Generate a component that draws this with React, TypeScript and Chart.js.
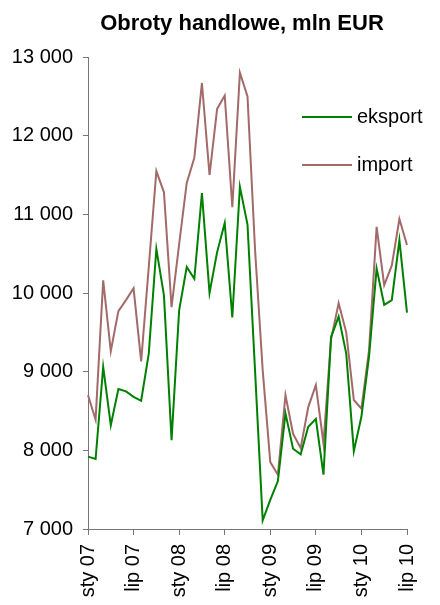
import React, { useEffect, useRef } from "react";
import { Chart, registerables } from "chart.js";

Chart.register(...registerables);

const TITLE = "Obroty handlowe, mln EUR";
const MONTHS = ["sty", "lut", "mar", "kwi", "maj", "cze", "lip", "sie", "wrz", "paź", "lis", "gru"];
const YEARS = ["07", "08", "09", "10"];
const categories: string[] = [];
YEARS.forEach((y) => MONTHS.forEach((m) => categories.push(m + " " + y)));
const labels = categories.slice(0, 43); // sty 07 .. lip 10

const eksport = [
  7920, 7890, 9060, 8320, 8780, 8750, 8680, 8630, 9230, 10560, 9970, 8130,
  9780, 10330, 10180, 11270, 10000, 10520, 10890, 9690, 11350, 10870, 9000, 7110,
  7370, 7610, 8470, 8020, 7950, 8300, 8400, 7690, 9440, 9700, 9230, 7990,
  8430, 9190, 10310, 9850, 9910, 10670, 9750,
];
const importData = [
  8700, 8390, 10160, 9260, 9770, 9910, 10060, 9130, 10330, 11550, 11280, 9820,
  10620, 11400, 11720, 12670, 11500, 12340, 12510, 11090, 12800, 12500, 10540, 9020,
  7850, 7690, 8700, 8210, 8030, 8550, 8830, 8090, 9410, 9870, 9500, 8640,
  8530, 9270, 10840, 10100, 10350, 10940, 10610,
];
const seriesNames = ["eksport", "import"];
const seriesColors = ["#008000", "#A36A6A"];
const yTicks = { min: 7000, max: 13000, step: 1000 };

const FONT = "'Liberation Sans', Arial, sans-serif";

export default function App() {
  const ref = useRef<HTMLCanvasElement | null>(null);

  useEffect(() => {
    document.body.style.margin = "0";
    const canvas = ref.current;
    if (!canvas) return;

    const overlay = {
      id: "overlay",
      afterDraw(chart: any) {
        const ctx = chart.ctx;
        ctx.save();
        ctx.fillStyle = "#000";
        ctx.font = `bold 22px ${FONT}`;
        ctx.textAlign = "center";
        ctx.textBaseline = "middle";
        ctx.fillText(TITLE, 242, 24);
        // legend
        ctx.font = `20px ${FONT}`;
        ctx.textAlign = "left";
        chart.data.datasets.forEach((ds: any, i: number) => {
          const y = 117 + i * 48;
          ctx.strokeStyle = ds.borderColor;
          ctx.lineWidth = 2;
          ctx.beginPath();
          ctx.moveTo(302, y);
          ctx.lineTo(352, y);
          ctx.stroke();
          ctx.fillText(ds.label, 357, y);
        });
        ctx.restore();
      },
    };

    const chart = new Chart(canvas, {
      type: "line",
      data: {
        labels,
        datasets: [
          {
            label: seriesNames[0],
            data: eksport,
            borderColor: seriesColors[0],
            backgroundColor: seriesColors[0],
            borderWidth: 2,
            pointRadius: 0,
            tension: 0,
          },
          {
            label: seriesNames[1],
            data: importData,
            borderColor: seriesColors[1],
            backgroundColor: seriesColors[1],
            borderWidth: 2,
            pointRadius: 0,
            tension: 0,
          },
        ],
      },
      plugins: [overlay],
      options: {
        animation: false,
        responsive: false,
        devicePixelRatio: 1,
        layout: { padding: { top: 57, right: 11, left: 0, bottom: 0 } },
        plugins: {
          legend: { display: false },
          title: { display: false },
          tooltip: { enabled: false },
        },
        scales: {
          x: {
            type: "category",
            offset: false,
            grid: {
              drawOnChartArea: false,
              color: "#777777",
              tickLength: 6,
            },
            border: { color: "#777777", width: 1 },
            ticks: {
              autoSkip: false,
              maxRotation: 90,
              minRotation: 90,
              padding: 9,
              color: "#000",
              font: { family: FONT, size: 20 },
              callback: (v: any, i: number) => (i % 6 === 0 ? labels[i] : null),
            },
            afterFit: (s: any) => {
              s.height = 76;
            },
          },
          y: {
            min: yTicks.min,
            max: yTicks.max,
            grid: {
              drawOnChartArea: false,
              color: "#777777",
              tickLength: 5,
            },
            border: { color: "#777777", width: 1 },
            ticks: {
              stepSize: yTicks.step,
              padding: 10,
              color: "#000",
              font: { family: FONT, size: 20 },
              callback: (v: any) => {
                const n = Number(v);
                const s = String(n);
                return s.length > 3 ? s.slice(0, s.length - 3) + " " + s.slice(-3) : s;
              },
            },
            afterFit: (s: any) => {
              s.width = 88;
            },
          },
        },
      },
    });
    return () => chart.destroy();
  }, []);

  return (
    <div style={{ width: 440, height: 605, background: "#fff" }}>
      <canvas ref={ref} width={440} height={605} style={{ display: "block" }} />
    </div>
  );
}
